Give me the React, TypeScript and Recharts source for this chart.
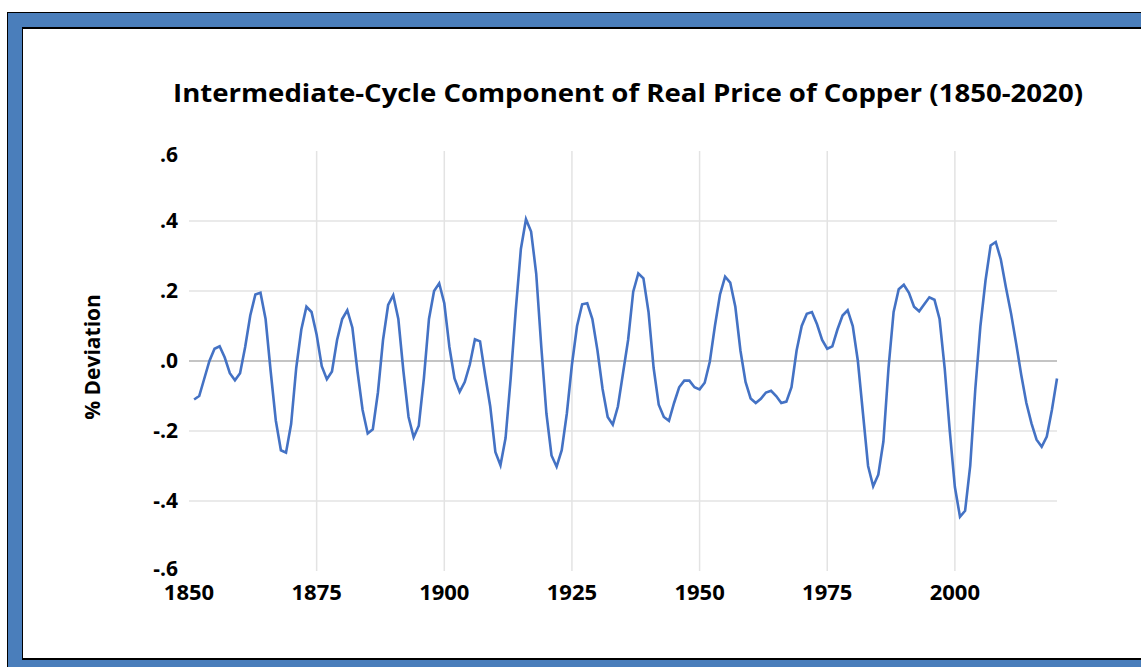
import React from "react";
import { LineChart, Line, XAxis, YAxis, CartesianGrid, ReferenceLine } from "recharts";

const firstYear = 1851;

// % deviation, one value per year from 1851 to 2020
const deviation = [
  -0.11, -0.1, -0.05, 0.0, 0.035, 0.042, 0.01, -0.035, -0.055, -0.035,
  0.04, 0.13, 0.19, 0.195, 0.12, -0.03, -0.17, -0.255, -0.262, -0.18,
  -0.02, 0.09, 0.155, 0.14, 0.075, -0.015, -0.052, -0.03, 0.06, 0.12,
  0.145, 0.095, -0.03, -0.14, -0.207, -0.195, -0.09, 0.06, 0.16, 0.188,
  0.12, -0.03, -0.16, -0.218, -0.185, -0.05, 0.12, 0.2, 0.222, 0.165,
  0.04, -0.05, -0.088, -0.06, -0.01, 0.062, 0.056, -0.04, -0.13, -0.26,
  -0.298, -0.22, -0.05, 0.146, 0.32, 0.405, 0.37, 0.25, 0.04, -0.15,
  -0.27, -0.302, -0.255, -0.15, -0.01, 0.1, 0.162, 0.165, 0.12, 0.03,
  -0.08, -0.16, -0.182, -0.13, -0.035, 0.06, 0.198, 0.25, 0.236, 0.14,
  -0.02, -0.125, -0.16, -0.171, -0.12, -0.075, -0.056, -0.056, -0.075, -0.081,
  -0.062, -0.002, 0.1, 0.19, 0.241, 0.224, 0.155, 0.03, -0.06, -0.107,
  -0.12, -0.108, -0.09, -0.085, -0.1, -0.12, -0.116, -0.075, 0.03, 0.1,
  0.135, 0.14, 0.105, 0.06, 0.035, 0.042, 0.09, 0.13, 0.145, 0.1,
  0.0, -0.15, -0.3, -0.358, -0.325, -0.23, -0.02, 0.14, 0.205, 0.218,
  0.195, 0.155, 0.142, 0.162, 0.182, 0.175, 0.12, -0.02, -0.2, -0.36,
  -0.445, -0.428, -0.3, -0.08, 0.1, 0.23, 0.33, 0.34, 0.29, 0.21,
  0.136, 0.05, -0.04, -0.12, -0.178, -0.225, -0.245, -0.216, -0.14, -0.05,
];

const xTicks = [1850, 1875, 1900, 1925, 1950, 1975, 2000];
const yTicks = [-0.6, -0.4, -0.2, 0, 0.2, 0.4, 0.6];
const gridYears = [1875, 1900, 1925, 1950, 1975, 2000];
const gridValues = [-0.4, -0.2, 0, 0.2, 0.4];

const title = "Intermediate-Cycle Component of Real Price of Copper (1850-2020)";
const yLabel = "% Deviation";

const data = deviation.map((v, i) => ({ year: firstYear + i, v }));

const FONT = "'Open Sans', sans-serif";

const fmtY = (v: number) => {
  if (Math.abs(v) < 1e-9) return ".0";
  return (v < 0 ? "-" : "") + "." + Math.round(Math.abs(v) * 10);
};

const XTick = (props: any) => {
  const { x, y, payload } = props;
  return (
    <text x={x} y={y + 21} textAnchor="middle" fontFamily={FONT} fontWeight={700} fontSize={22} fill="#000">
      {payload.value}
    </text>
  );
};

const YTick = (props: any) => {
  const { x, y, payload } = props;
  let shift = 0;
  if (payload.value === 0.6) shift = 4;
  if (payload.value === -0.6) shift = -2;
  return (
    <text x={x - 3} y={y + 7 + shift} textAnchor="end" fontFamily={FONT} fontWeight={700} fontSize={21} fill="#000">
      {fmtY(payload.value)}
    </text>
  );
};

export default function App() {
  return (
    <div style={{ position: "absolute", left: 0, top: 0, width: 1141, height: 667, background: "#fff", overflow: "hidden" }}>
      {/* frame */}
      <div style={{ position: "absolute", left: 7, top: 12, width: 1160, height: 670, background: "#4a7ebb", borderTop: "1px solid #000", borderLeft: "1px solid #000" }} />
      <div style={{ position: "absolute", left: 22, top: 27, width: 1140, height: 633, background: "#000" }} />
      <div style={{ position: "absolute", left: 23, top: 29, width: 1140, height: 629, background: "#fff" }} />

      <div style={{ position: "absolute", left: 0, top: 0 }}>
        <LineChart width={1141} height={667} data={data} margin={{ top: 151, right: 84, bottom: 56, left: 129 }}>
          <CartesianGrid
            stroke="#e3e3e3"
            strokeWidth={1.5}
            horizontalValues={gridValues}
            verticalValues={gridYears}
          />
          <ReferenceLine y={0} stroke="#c4c4c4" strokeWidth={2} />
          <XAxis
            dataKey="year"
            type="number"
            domain={[1850, 2020]}
            ticks={xTicks}
            axisLine={false}
            tickLine={false}
            tick={<XTick />}
            height={40}
            interval={0}
          />
          <YAxis
            type="number"
            domain={[-0.6, 0.6]}
            ticks={yTicks}
            axisLine={false}
            tickLine={false}
            tick={<YTick />}
            width={60}
            interval={0}
          />
          <Line
            type="linear"
            dataKey="v"
            stroke="#4472c4"
            strokeWidth={2.6}
            dot={false}
            isAnimationActive={false}
          />
        </LineChart>
      </div>

      <svg width={1141} height={667} style={{ position: "absolute", left: 0, top: 0, pointerEvents: "none" }}>
        <text x={173} y={102} fontFamily={FONT} fontWeight={700} fontSize={25} fill="#000" textLength={910} lengthAdjust="spacingAndGlyphs">
          {title}
        </text>
        <text
          x={0}
          y={0}
          transform="translate(100 357) rotate(-90)"
          textAnchor="middle"
          fontFamily={FONT}
          fontWeight={700}
          fontSize={21}
          fill="#000"
        >
          {yLabel}
        </text>
      </svg>
    </div>
  );
}
